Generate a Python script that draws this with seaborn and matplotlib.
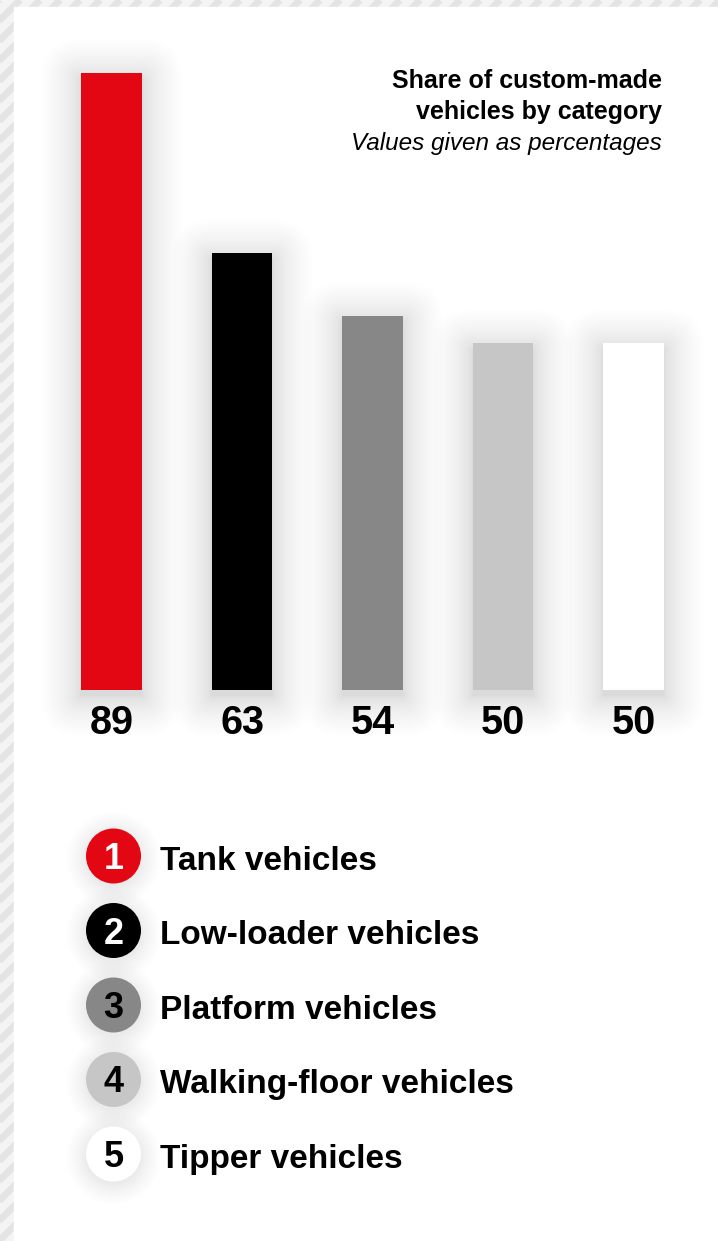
import numpy as np
import pandas as pd
import matplotlib
matplotlib.use("Agg")
import matplotlib.pyplot as plt
import seaborn as sns
from matplotlib.patches import Rectangle, Circle, FancyBboxPatch

# data
categories = ["Tank vehicles", "Low-loader vehicles", "Platform vehicles",
              "Walking-floor vehicles", "Tipper vehicles"]
shares = [89, 63, 54, 50, 50]
bar_colors = ["#e30613", "#000000", "#878787", "#c6c6c6", "#ffffff"]
number_colors = ["white", "white", "black", "black", "black"]
title_lines = ["Share of custom-made", "vehicles by category"]
subtitle = "Values given as percentages"

sns.set_theme(style="white")
plt.rcParams["font.family"] = ["Liberation Sans", "DejaVu Sans"]

W, H = 718, 1241
fig = plt.figure(figsize=(W / 100, H / 100), dpi=100)

# pixel-space axes for background, titles and legend
px = fig.add_axes([0, 0, 1, 1])
px.set_xlim(0, W)
px.set_ylim(H, 0)
px.axis("off")

# striped frame on the left / top
px.add_patch(Rectangle((0, 0), W, H, color="#f4f4f4", zorder=0))
for c in np.arange(-H, W + 20, 20):
    px.plot([c, c + H], [H, 0], color="#e4e4e4", lw=5,
            solid_capstyle="butt", zorder=1)
px.add_patch(Rectangle((14, 7), W, H, color="white", zorder=2))

# bar axes, placed so bars land where the reference has them
ax = fig.add_axes([0, 0, 1, 1])
ax.patch.set_alpha(0)
df = pd.DataFrame({"category": categories, "share": shares})
sns.barplot(data=df, x="category", y="share", hue="category",
            palette=bar_colors, saturation=1, width=0.467, linewidth=0,
            legend=False, ax=ax)
sx = 130.5            # px per category
sy = 617 / 89         # px per percent
x0_px, base_px = 111.5, 690
ax.set_xlim(-x0_px / sx, (W - x0_px) / sx)
ax.set_ylim(-(H - base_px) / sy, base_px / sy)
ax.axis("off")

# soft shadows behind bars (drawn in pixel axes)
n_layers, spread = 36, 40
for p in ax.patches:
    (dx0, dy0), (dx1, dy1) = ax.transData.transform(
        [(p.get_x(), 0), (p.get_x() + p.get_width(), p.get_height())])
    top, bot = H - dy1, H - dy0
    for k in range(n_layers):
        pad = spread * ((k + 1) / n_layers) ** 1.7
        px.add_patch(FancyBboxPatch(
            (dx0 - pad, top - pad + 6), (dx1 - dx0) + 2 * pad, (bot - top) + 2 * pad,
            boxstyle=f"round,pad=0,rounding_size={pad}",
            color="black", alpha=0.003, lw=0, zorder=3))

# value labels under bars
for p, v in zip(ax.patches, shares):
    ax.annotate(f"{v}", xy=(p.get_x() + p.get_width() / 2, 0),
                xytext=(0, -44 * 0.72), textcoords="offset points",
                ha="center", va="baseline", fontsize=28.5,
                fontweight="bold", color="black")

# title
px.text(662, 88, title_lines[0], ha="right", va="baseline",
        fontsize=18, fontweight="bold", color="black", zorder=5)
px.text(662, 119, title_lines[1], ha="right", va="baseline",
        fontsize=18, fontweight="bold", color="black", zorder=5)
px.text(662, 150, subtitle, ha="right", va="baseline",
        fontsize=17.5, fontstyle="italic", color="black", zorder=5)

# numbered legend
cx, r = 113.5, 27.5
for i, (cat, col, ncol) in enumerate(zip(categories, bar_colors, number_colors)):
    cy = 856 + 74.5 * i
    for k in range(20):
        px.add_patch(Circle((cx, cy + 3), r + 20 * ((k + 1) / 20) ** 1.3,
                            color="black", alpha=0.0045, lw=0, zorder=3))
    px.add_patch(Circle((cx, cy), r, color=col, lw=0, zorder=4))
    px.text(cx, cy + 13, str(i + 1), ha="center", va="baseline",
            fontsize=26, fontweight="bold", color=ncol, zorder=5)
    px.text(160, cy + 14, cat, ha="left", va="baseline",
            fontsize=24, fontweight="bold", color="black", zorder=5)

fig.savefig("out.png", dpi=100)
